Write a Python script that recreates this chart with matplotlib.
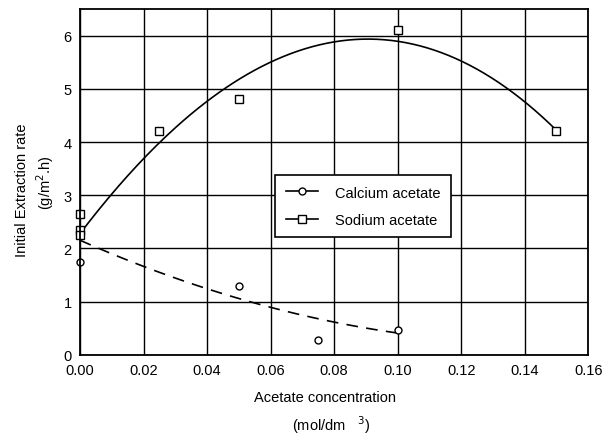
import numpy as np
import matplotlib
matplotlib.use("Agg")
import matplotlib.pyplot as plt
from matplotlib.lines import Line2D

plt.rcParams['font.family'] = ['Liberation Sans', 'DejaVu Sans']

# measured points
ca_x = [0.0, 0.05, 0.075, 0.10]
ca_y = [1.75, 1.30, 0.28, 0.47]
na_x = [0.0, 0.0, 0.0, 0.025, 0.05, 0.10, 0.15]
na_y = [2.65, 2.35, 2.25, 4.20, 4.80, 6.10, 4.20]

# fitted curves
ca_fit_x = [0.0, 0.025, 0.05, 0.075, 0.10]
ca_fit_y = [2.15, 1.55, 1.08, 0.65, 0.42]
na_fit_x = [0.0, 0.02, 0.05, 0.08, 0.10, 0.12, 0.14, 0.15]
na_fit_y = [2.25, 3.75, 5.15, 5.85, 5.90, 5.55, 4.77, 4.20]

xticks = [0.00, 0.02, 0.04, 0.06, 0.08, 0.10, 0.12, 0.14, 0.16]
yticks = [0, 1, 2, 3, 4, 5, 6]

fig = plt.figure(figsize=(6.02, 4.35), dpi=100)
ax = fig.add_axes([0.133, 0.182, 0.844, 0.795])

xs = np.linspace(0, 0.10, 100)
ax.plot(xs, np.polyval(np.polyfit(ca_fit_x, ca_fit_y, 2), xs), color='black',
        lw=1.2, ls=(0, (7, 5)))
xs2 = np.linspace(0, 0.15, 200)
ax.plot(xs2, np.polyval(np.polyfit(na_fit_x, na_fit_y, 3), xs2), color='black', lw=1.2)

ax.plot(ca_x, ca_y, 'o', mfc='white', mec='black', ms=5, mew=1, clip_on=False)
ax.plot(na_x, na_y, 's', mfc='white', mec='black', ms=6, mew=1, clip_on=False)

ax.set_xlim(0, 0.16)
ax.set_ylim(0, 6.5)
ax.set_xticks(xticks)
ax.set_xticklabels(['%.2f' % v for v in xticks], fontsize=10.5)
ax.set_yticks(yticks)
ax.set_yticklabels([str(v) for v in yticks], fontsize=10.5)
ax.grid(True, color='black', lw=1)
ax.tick_params(length=0, pad=6)
for s in ax.spines.values():
    s.set_linewidth(1.3)

handles = [Line2D([0], [0], color='black', lw=1.2, marker='o', mfc='white', ms=5),
           Line2D([0], [0], color='black', lw=1.2, marker='s', mfc='white', ms=6)]
leg = ax.legend(handles, ['Calcium acetate', 'Sodium acetate'], loc='center',
                bbox_to_anchor=(0.557, 0.43), fontsize=10.5, fancybox=False,
                framealpha=1, edgecolor='black', handlelength=2.2,
                labelspacing=0.9, borderpad=0.7, handletextpad=1.2)
leg.get_frame().set_linewidth(1.2)

fig.text(0.54, 0.085, 'Acetate concentration', ha='center', va='center', fontsize=10.5)
fig.text(0.55, 0.023, '(mol/dm   $^3$)', ha='center', va='center', fontsize=10.5)
fig.text(0.036, 0.563, 'Initial Extraction rate', rotation=90, ha='center', va='center',
         fontsize=10.5)
fig.text(0.075, 0.58, '(g/m$^2$.h)', rotation=90, ha='center', va='center', fontsize=10.5)

fig.savefig('out.png', dpi=100)
